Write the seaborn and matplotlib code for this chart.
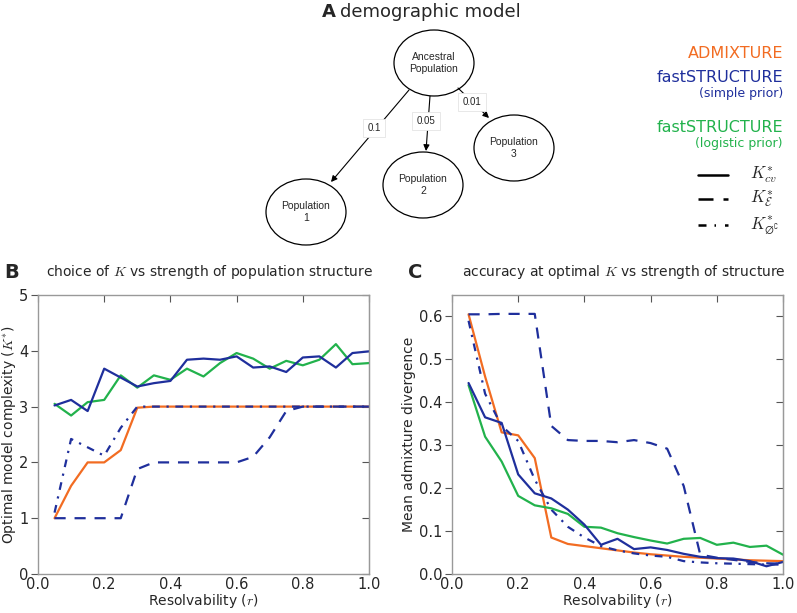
#____________________________________________________________________________
# Required Modules
import matplotlib
matplotlib.use("Agg")
import matplotlib.pyplot as plt
from matplotlib.patches import Ellipse
import seaborn as sns
#____________________________________________________________________________
# Data (resolvability r on the x axis)
r = [0.05, 0.10, 0.15, 0.20, 0.25, 0.30, 0.35, 0.40, 0.45, 0.50,
     0.55, 0.60, 0.65, 0.70, 0.75, 0.80, 0.85, 0.90, 0.95, 1.00]

# Panel B: optimal model complexity K*
k_admix_cv = [1.0, 1.58, 2.0, 2.0, 2.22, 2.98, 3.0, 3.0, 3.0, 3.0,
              3.0, 3.0, 3.0, 3.0, 3.0, 3.0, 3.0, 3.0, 3.0, 3.0]
k_simple_cv = [3.02, 3.12, 2.92, 3.68, 3.52, 3.36, 3.42, 3.46, 3.84, 3.86,
               3.84, 3.90, 3.70, 3.72, 3.62, 3.88, 3.90, 3.70, 3.96, 3.99]
k_logistic_cv = [3.05, 2.84, 3.08, 3.12, 3.56, 3.34, 3.56, 3.48, 3.68, 3.54,
                 3.78, 3.96, 3.86, 3.68, 3.82, 3.74, 3.84, 4.12, 3.76, 3.78]
k_simple_eps = [1.0, 1.0, 1.0, 1.0, 1.0, 1.88, 2.0, 2.0, 2.0, 2.0,
                2.0, 2.0, 2.1, 2.45, 2.92, 3.0, 3.0, 3.0, 3.0, 3.0]
k_simple_phi = [1.1, 2.42, 2.27, 2.12, 2.62, 3.0, 3.0, 3.0, 3.0, 3.0,
                3.0, 3.0, 3.0, 3.0, 3.0, 3.0, 3.0, 3.0, 3.0, 3.0]

# Panel C: mean admixture divergence at optimal K
d_admix_cv = [0.605, 0.46, 0.33, 0.323, 0.27, 0.085, 0.07, 0.065, 0.06, 0.055,
              0.05, 0.046, 0.043, 0.04, 0.038, 0.036, 0.034, 0.032, 0.031, 0.03]
d_simple_cv = [0.445, 0.365, 0.352, 0.232, 0.188, 0.176, 0.15, 0.115, 0.068, 0.082,
               0.058, 0.062, 0.056, 0.047, 0.04, 0.037, 0.036, 0.03, 0.018, 0.028]
d_logistic_cv = [0.44, 0.32, 0.262, 0.182, 0.16, 0.153, 0.14, 0.11, 0.108, 0.095,
                 0.086, 0.078, 0.071, 0.082, 0.084, 0.068, 0.073, 0.063, 0.066, 0.045]
d_simple_eps = [0.605, 0.605, 0.606, 0.606, 0.606, 0.345, 0.312, 0.31, 0.31, 0.307,
                0.312, 0.305, 0.292, 0.205, 0.045, 0.038, 0.033, 0.028, 0.025, 0.024]
d_simple_phi = [0.59, 0.42, 0.345, 0.31, 0.22, 0.15, 0.11, 0.085, 0.065, 0.055,
                0.048, 0.043, 0.04, 0.03, 0.027, 0.025, 0.024, 0.023, 0.022, 0.022]

# Demographic model: migration labels
edge_labels = ["0.1", "0.05", "0.01"]
#____________________________________________________________________________
# Style
sns.set_style("white")
plt.rcParams['font.family'] = ['DejaVu Sans']
plt.rcParams['mathtext.fontset'] = 'cm'

ORANGE = '#f26c22'
BLUE = '#1f2f9c'
GREEN = '#22b24c'
DASH = (0, (5, 4))
DASHDOT = (0, (3.5, 3, 1, 3))

W, H = 797, 613
fig = plt.figure(figsize=(W / 100, H / 100), dpi=100)


def px_rect(x0, y0, x1, y1):
    return [x0 / W, 1 - y1 / H, (x1 - x0) / W, (y1 - y0) / H]


axB = fig.add_axes(px_rect(38, 295, 369, 574))
axC = fig.add_axes(px_rect(452, 295, 783, 574))

# overlay axes in pixel coordinates for the diagram, legend and panel titles
ov = fig.add_axes([0, 0, 1, 1])
ov.set_xlim(0, W)
ov.set_ylim(H, 0)
ov.axis('off')
#____________________________________________________________________________
# PLOTTING : panels B and C
def draw_series(ax, cv_a, cv_s, cv_l, eps_s, phi_s):
    sns.lineplot(x=r, y=cv_a, color=ORANGE, lw=1.6, ax=ax)
    sns.lineplot(x=r, y=eps_s, color=BLUE, lw=1.6, linestyle=DASH, ax=ax)
    sns.lineplot(x=r, y=phi_s, color=BLUE, lw=1.6, linestyle=DASHDOT, ax=ax)
    sns.lineplot(x=r, y=cv_l, color=GREEN, lw=1.6, ax=ax)
    sns.lineplot(x=r, y=cv_s, color=BLUE, lw=1.6, ax=ax)


draw_series(axB, k_admix_cv, k_simple_cv, k_logistic_cv, k_simple_eps, k_simple_phi)
draw_series(axC, d_admix_cv, d_simple_cv, d_logistic_cv, d_simple_eps, d_simple_phi)

axB.set_ylim(0, 5)
axB.set_yticks([0, 1, 2, 3, 4, 5])
axB.set_ylabel(r'Optimal model complexity ($K^{*}$)', fontsize=10, labelpad=1)
axC.set_ylim(0, 0.65)
axC.set_yticks([0.0, 0.1, 0.2, 0.3, 0.4, 0.5, 0.6])
axC.set_ylabel('Mean admixture divergence', fontsize=10, labelpad=2)

for ax in (axB, axC):
    ax.set_xlim(0, 1.0)
    ax.set_xticks([0.0, 0.2, 0.4, 0.6, 0.8, 1.0])
    ax.set_xlabel(r'Resolvability ($r$)', fontsize=10, labelpad=0)
    for s in ax.spines.values():
        s.set_color('#999999')
        s.set_linewidth(1.0)
    ax.tick_params(axis='x', direction='in', top=True, length=5, color='#555555',
                   labelsize=10.5, pad=2)
    ax.tick_params(axis='y', direction='out', left=True, length=5, color='#555555',
                   labelsize=10.5, pad=2)
    sec = ax.secondary_yaxis('right')
    sec.set_yticks(ax.get_yticks())
    sec.tick_params(direction='in', length=5, color='#555555', labelright=False)
    sec.spines['right'].set_color('#999999')

# panel titles
ov.text(4, 272, 'B', fontsize=14, fontweight='bold', va='center', ha='left')
ov.text(46, 272, r'choice of $K$ vs strength of population structure',
        fontsize=10, va='center', ha='left')
ov.text(408, 272, 'C', fontsize=14, fontweight='bold', va='center', ha='left')
ov.text(462, 272, r'accuracy at optimal $K$ vs strength of structure',
        fontsize=10, va='center', ha='left')
#____________________________________________________________________________
# PLOTTING : panel A, demographic model diagram
ov.text(322, 12, 'A', fontsize=13, fontweight='bold', va='center', ha='left')
ov.text(340, 12, 'demographic model', fontsize=13, va='center', ha='left')

nodes = {
    'anc': ((434, 63), 'Ancestral\nPopulation'),
    'p1': ((306, 212), 'Population\n1'),
    'p2': ((423, 185), 'Population\n2'),
    'p3': ((514, 148), 'Population\n3'),
}
for (cx, cy), label in nodes.values():
    ov.add_patch(Ellipse((cx, cy), 80, 66, facecolor='white', edgecolor='black', lw=0.9))
    ov.text(cx, cy, label, fontsize=7.5, family='Liberation Sans', ha='center',
            va='center', linespacing=1.3)

edges = [((409, 90), (331, 182), (374, 128)),
         ((430, 96), (426, 151), (426, 121)),
         ((458, 88), (489, 118), (472, 102))]
for (start, end, lab_xy), lab in zip(edges, edge_labels):
    ov.annotate('', xy=end, xytext=start,
                arrowprops=dict(arrowstyle='-|>', color='black', lw=0.8,
                                mutation_scale=9, shrinkA=0, shrinkB=0))
    ov.text(lab_xy[0], lab_xy[1], lab, fontsize=7, family='Liberation Sans',
            ha='center', va='center', zorder=5,
            bbox=dict(facecolor='white', edgecolor='#e4e4e4', lw=0.6, pad=3))
#____________________________________________________________________________
# Legend (colour = method, line style = choice of K)
ov.text(783, 53, 'ADMIXTURE', color=ORANGE, fontsize=11.5, ha='right', va='center')
ov.text(783, 77, 'fastSTRUCTURE', color=BLUE, fontsize=11.5, ha='right', va='center')
ov.text(783, 94, '(simple prior)', color=BLUE, fontsize=9, ha='right', va='center')
ov.text(783, 127, 'fastSTRUCTURE', color=GREEN, fontsize=11.5, ha='right', va='center')
ov.text(783, 143, '(logistic prior)', color=GREEN, fontsize=9, ha='right', va='center')

style_rows = [('-', r'$K^{*}_{cv}$', 175),
              ((0, (6, 4)), r'$K^{*}_{\mathcal{E}}$', 199),
              ((0, (3.2, 3.2, 0.6, 3.6)), r'$K^{*}_{\varnothing^{\complement}}$', 225)]
for ls, lab, yy in style_rows:
    ov.plot([698, 728], [yy, yy], color='black', lw=1.8, linestyle=ls)
    ov.text(750, yy, lab, fontsize=12, ha='left', va='center')

fig.savefig('out.png', dpi=100)
